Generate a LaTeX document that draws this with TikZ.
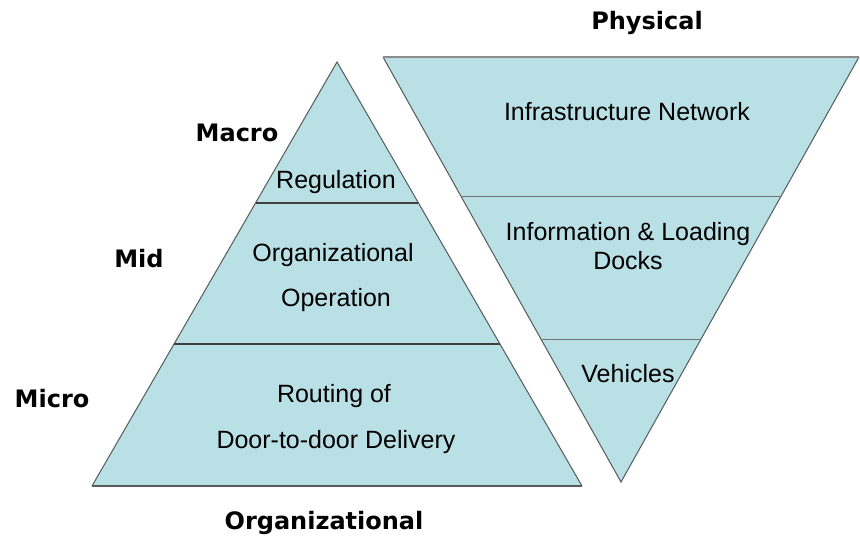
\documentclass[tikz,border=0pt]{standalone}
\usepackage{fontspec}
\setmainfont{Liberation Sans}
\newfontfamily\headfont{DejaVu Sans}
\usetikzlibrary{calc}
\definecolor{pyrfill}{RGB}{185,224,228}
\definecolor{pyredge}{RGB}{85,90,90}

\begin{document}
\begin{tikzpicture}[x=1pt, y=-1pt,
		txt/.style={font=\fontsize{25}{30}\selectfont, inner sep=0pt, anchor=base},
		head/.style={font=\headfont\bfseries\fontsize{24}{28}\selectfont, inner sep=0pt, anchor=base},
		orgcut/.style={draw=black!75, line width=1.8pt},
		physcut/.style={draw=black!55, line width=1.2pt}]
		\useasboundingbox (0,0) rectangle (860,539);

		% organizational pyramid
		\coordinate (oTop) at (337,62);
		\coordinate (oLeft) at (92,486);
		\coordinate (oRight) at (582,486);
		\fill[pyrfill] (oTop) -- (oLeft) -- (oRight) -- cycle;
		\draw[pyredge, line width=1pt] (oLeft) -- (oTop) -- (oRight);
		\draw[black!65, line width=2pt] (oLeft) -- (oRight);
		\draw[orgcut] ($(oTop)!0.3325!(oLeft)$) -- ($(oTop)!0.3325!(oRight)$);
		\draw[orgcut] ($(oTop)!0.665!(oLeft)$) -- ($(oTop)!0.665!(oRight)$);

		% physical pyramid
		\coordinate (pLeft) at (383,57);
		\coordinate (pRight) at (859,57);
		\coordinate (pTip) at (621,482);
		\fill[pyrfill] (pLeft) -- (pRight) -- (pTip) -- cycle;
		\draw[pyredge, line width=1pt] (pLeft) -- (pTip) -- (pRight);
		\draw[black!45, line width=1.5pt] (pLeft) -- (pRight);
		\draw[physcut] ($(pLeft)!0.329!(pTip)$) -- ($(pRight)!0.329!(pTip)$);
		\draw[physcut] ($(pLeft)!0.664!(pTip)$) -- ($(pRight)!0.664!(pTip)$);

		\node[txt] (regulation) at (336,188) {Regulation};
		\node[txt] (orgop1) at (333,261) {Organizational};
		\node[txt] (orgop2) at (336,306) {Operation};
		\node[txt] (routing1) at (334,402) {Routing of};
		\node[txt] (routing2) at (336,448) {Door-to-door Delivery};

		\node[txt] (infra) at (627,120) {Infrastructure Network};
		\node[txt] (info1) at (628,240) {Information \& Loading};
		\node[txt] (info2) at (628,269) {Docks};
		\node[txt] (vehicles) at (628,382) {Vehicles};

		\node[head] (macro) at (237,141) {Macro};
		\node[head] (mid) at (139,267) {Mid};
		\node[head] (micro) at (52,407) {Micro};
		\node[head] (organizational) at (324,529) {Organizational};
		\node[head] (physical) at (647,29) {Physical};
	\end{tikzpicture}
\end{document}
